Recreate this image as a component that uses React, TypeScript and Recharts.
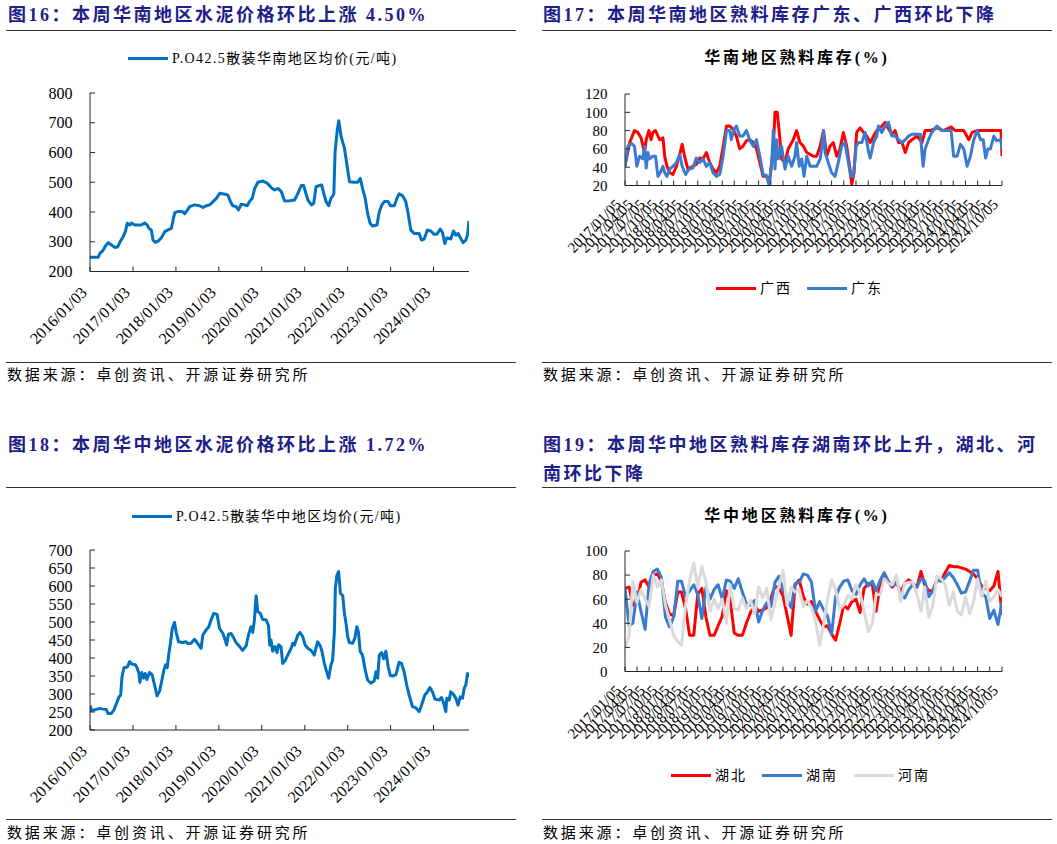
import React from "react";
import { LineChart, Line, XAxis, YAxis } from "recharts";

const SERIF = '"Liberation Serif", "Times New Roman", "Noto Sans CJK SC", serif';
const TITLE_COLOR = "#1d2088";
const AXIS = "#262626";
const PRICE_BLUE = "#0070c0";
const RED = "#ff0000";
const BLUE = "#3b7bcf";
const GRAY = "#dadada";

// 图16 华南 P.O42.5 散装均价
const southDates = [
  "2016/01/03", "2016/03/13", "2016/03/27", "2016/04/25", "2016/05/08", "2016/06/06", "2016/07/04", "2016/07/31",
  "2016/08/24", "2016/09/13", "2016/10/11", "2016/10/30", "2016/11/15", "2016/12/07", "2016/12/21", "2017/01/19",
  "2017/03/15", "2017/04/12", "2017/05/04", "2017/05/19", "2017/06/08", "2017/06/22", "2017/07/12", "2017/08/04",
  "2017/09/01", "2017/09/30", "2017/10/28", "2017/11/25", "2017/12/10", "2017/12/24", "2018/01/22", "2018/03/04",
  "2018/03/18", "2018/04/15", "2018/04/29", "2018/06/11", "2018/07/23", "2018/08/21", "2018/09/19", "2018/10/17",
  "2018/11/15", "2018/12/13", "2019/01/11", "2019/02/22", "2019/03/20", "2019/04/12", "2019/05/01", "2019/05/30",
  "2019/06/19", "2019/07/12", "2019/08/10", "2019/09/01", "2019/09/21", "2019/10/14", "2019/11/03", "2019/12/01",
  "2020/01/13", "2020/02/19", "2020/03/23", "2020/04/21", "2020/05/19", "2020/06/17", "2020/07/15", "2020/08/26",
  "2020/10/08", "2020/11/06", "2020/12/04", "2020/12/24", "2021/01/08", "2021/01/30", "2021/02/28", "2021/03/20",
  "2021/04/09", "2021/05/08", "2021/05/27", "2021/06/13", "2021/07/03", "2021/07/25", "2021/08/14", "2021/09/07",
  "2021/09/18", "2021/10/05", "2021/10/19", "2021/11/08", "2021/12/06", "2021/12/28", "2022/01/18", "2022/03/01",
  "2022/03/29", "2022/04/20", "2022/05/09", "2022/06/01", "2022/06/21", "2022/07/13", "2022/08/02", "2022/09/09",
  "2022/09/28", "2022/10/21", "2022/11/10", "2022/12/14", "2023/01/01", "2023/02/04", "2023/02/26", "2023/03/16",
  "2023/04/14", "2023/05/12", "2023/06/01", "2023/06/24", "2023/07/22", "2023/09/03", "2023/09/23", "2023/10/15",
  "2023/11/13", "2023/12/11", "2024/01/09", "2024/02/01", "2024/02/29", "2024/03/19", "2024/04/08", "2024/04/25",
  "2024/05/15", "2024/05/29", "2024/06/21", "2024/07/11", "2024/07/30", "2024/08/22", "2024/09/11", "2024/10/04",
  "2024/10/18", "2024/10/31",
];
const southPrice = [
  248, 248, 261, 272, 283, 297, 289, 281, 282, 298, 317, 334, 362, 356, 363, 356,
  356, 363, 356, 345, 339, 306, 298, 302, 313, 334, 340, 345, 373, 398, 402, 401,
  394, 409, 418, 424, 421, 415, 421, 424, 435, 446, 463, 460, 457, 435, 421, 418,
  407, 426, 424, 421, 435, 446, 478, 500, 504, 497, 482, 474, 479, 469, 437, 438,
  440, 463, 489, 489, 469, 440, 424, 429, 485, 489, 491, 463, 435, 421, 446, 460,
  603, 671, 707, 654, 615, 558, 502, 500, 500, 513, 480, 446, 396, 362, 353, 356,
  399, 424, 435, 435, 421, 421, 446, 461, 455, 435, 396, 339, 328, 328, 306, 309,
  339, 336, 325, 325, 343, 331, 294, 313, 311, 309, 336, 322, 328, 311, 297, 306,
  322, 370,
];

// 图18 华中 P.O42.5 散装均价
const centralDates = [
  "2016/01/03", "2016/01/15", "2016/02/13", "2016/03/25", "2016/04/22", "2016/05/20", "2016/06/04", "2016/07/02",
  "2016/07/25", "2016/08/14", "2016/09/06", "2016/09/20", "2016/10/01", "2016/10/18", "2016/11/16", "2016/12/05",
  "2016/12/25", "2017/01/23", "2017/02/09", "2017/02/24", "2017/03/02", "2017/03/19", "2017/04/03", "2017/04/17",
  "2017/05/01", "2017/05/23", "2017/06/15", "2017/07/05", "2017/07/27", "2017/08/17", "2017/09/06", "2017/09/23",
  "2017/10/07", "2017/10/21", "2017/11/02", "2017/11/19", "2017/12/03", "2017/12/22", "2018/01/06", "2018/01/26",
  "2018/03/02", "2018/03/30", "2018/04/14", "2018/05/12", "2018/06/10", "2018/07/08", "2018/08/05", "2018/08/20",
  "2018/09/17", "2018/10/10", "2018/10/29", "2018/11/21", "2018/12/19", "2019/01/09", "2019/02/07", "2019/02/21",
  "2019/03/11", "2019/03/25", "2019/04/17", "2019/05/09", "2019/05/29", "2019/06/26", "2019/07/24", "2019/08/22",
  "2019/09/14", "2019/10/04", "2019/10/18", "2019/11/02", "2019/11/16", "2019/11/30", "2019/12/22", "2020/01/11",
  "2020/02/09", "2020/02/29", "2020/03/11", "2020/03/22", "2020/04/05", "2020/04/25", "2020/05/12", "2020/05/26",
  "2020/06/15", "2020/06/29", "2020/07/19", "2020/08/11", "2020/09/09", "2020/09/23", "2020/10/07", "2020/11/05",
  "2020/11/24", "2020/12/17", "2021/01/06", "2021/01/29", "2021/02/26", "2021/03/25", "2021/04/08", "2021/04/22",
  "2021/05/12", "2021/05/29", "2021/06/18", "2021/07/08", "2021/07/25", "2021/08/14", "2021/08/28", "2021/09/12",
  "2021/09/20", "2021/10/04", "2021/10/18", "2021/11/02", "2021/11/22", "2021/12/06", "2021/12/20", "2022/01/03",
  "2022/01/17", "2022/02/15", "2022/03/05", "2022/03/22", "2022/04/05", "2022/04/19", "2022/05/09", "2022/06/01",
  "2022/06/21", "2022/07/19", "2022/08/16", "2022/09/01", "2022/09/15", "2022/09/29", "2022/10/18", "2022/11/05",
  "2022/11/24", "2022/12/14", "2023/01/01", "2023/01/20", "2023/02/18", "2023/03/16", "2023/04/05", "2023/04/28",
  "2023/05/20", "2023/06/10", "2023/07/08", "2023/08/05", "2023/09/03", "2023/09/23", "2023/10/21", "2023/11/13",
  "2023/12/03", "2023/12/25", "2024/01/15", "2024/02/21", "2024/03/11", "2024/03/27", "2024/04/17", "2024/04/25",
  "2024/05/15", "2024/05/29", "2024/06/21", "2024/07/11", "2024/07/30", "2024/08/17", "2024/09/06", "2024/09/20",
  "2024/10/04", "2024/10/18", "2024/10/31",
];
const centralPrice = [
  268, 254, 256, 260, 258, 257, 246, 246, 256, 273, 292, 297, 348, 373, 375, 390,
  383, 381, 371, 355, 332, 360, 344, 357, 340, 360, 353, 325, 295, 308, 339, 367,
  381, 373, 408, 445, 482, 499, 470, 445, 443, 445, 440, 441, 452, 440, 427, 464,
  478, 487, 506, 524, 521, 482, 468, 455, 436, 466, 468, 456, 443, 433, 421, 433,
  466, 487, 471, 506, 573, 529, 524, 507, 506, 491, 436, 450, 419, 432, 415, 437,
  431, 385, 392, 408, 427, 441, 436, 464, 471, 459, 436, 427, 421, 408, 427, 445,
  436, 419, 385, 362, 344, 381, 394, 473, 594, 631, 640, 580, 573, 524, 496, 459,
  443, 441, 455, 487, 471, 419, 408, 367, 339, 330, 336, 362, 344, 408, 415, 398,
  419, 375, 351, 350, 354, 388, 385, 362, 325, 297, 265, 262, 251, 269, 297, 306,
  318, 306, 286, 283, 290, 277, 251, 288, 283, 306, 299, 288, 269, 292, 288, 316,
  325, 357, 348,
];

const yearTicks = [
  "2016/01/03", "2017/01/03", "2018/01/03", "2019/01/03", "2020/01/03",
  "2021/01/03", "2022/01/03", "2023/01/03", "2024/01/03",
];
const southTicks = [200, 300, 400, 500, 600, 700, 800];
const centralTicks = [200, 250, 300, 350, 400, 450, 500, 550, 600, 650, 700];

// 图17 华南熟料库存 广西 / 广东
const guangxiDates = [
  "2017/01/05", "2017/02/09", "2017/03/17", "2017/04/11", "2017/05/06", "2017/05/31", "2017/06/13", "2017/07/03", "2017/07/20", "2017/08/02",
  "2017/08/22", "2017/09/22", "2017/10/17", "2017/10/30", "2017/11/16", "2017/12/06", "2017/12/31", "2018/01/26", "2018/02/20", "2018/03/10",
  "2018/03/28", "2018/04/22", "2018/05/30", "2018/06/24", "2018/07/19", "2018/08/13", "2018/09/08", "2018/10/03", "2018/10/28", "2018/11/22",
  "2018/12/17", "2019/01/12", "2019/02/06", "2019/03/02", "2019/03/26", "2019/04/21", "2019/05/16", "2019/06/10", "2019/07/05", "2019/07/30",
  "2019/08/25", "2019/09/19", "2019/10/14", "2019/11/08", "2019/12/03", "2019/12/28", "2020/01/23", "2020/02/05", "2020/02/22", "2020/03/08",
  "2020/03/25", "2020/04/20", "2020/05/14", "2020/06/21", "2020/07/16", "2020/08/10", "2020/09/05", "2020/09/30", "2020/10/25", "2020/11/19",
  "2020/12/14", "2021/01/09", "2021/02/03", "2021/02/27", "2021/03/24", "2021/04/18", "2021/05/13", "2021/06/07", "2021/07/02", "2021/07/27",
  "2021/08/21", "2021/09/03", "2021/09/20", "2021/10/10", "2021/11/05", "2021/11/30", "2021/12/25", "2022/01/20", "2022/02/14", "2022/03/10",
  "2022/04/17", "2022/05/12", "2022/06/06", "2022/07/01", "2022/07/26", "2022/08/20", "2022/09/15", "2022/10/10", "2022/11/04", "2022/11/29",
  "2023/01/06", "2023/02/13", "2023/03/08", "2023/04/15", "2023/06/05", "2023/07/25", "2023/09/19", "2023/10/21", "2023/12/23", "2024/01/30",
  "2024/02/24", "2024/04/02", "2024/07/10", "2024/09/28", "2024/10/05",
];
const guangxiStock = [
  41, 67, 80, 78, 72, 56, 70, 80, 70, 78,
  80, 70, 72, 52, 41, 34, 32, 41, 54, 65,
  52, 38, 41, 43, 50, 49, 56, 45, 38, 34,
  41, 63, 85, 85, 82, 74, 60, 63, 69, 70,
  67, 60, 45, 30, 30, 27, 60, 100, 100, 78,
  49, 45, 60, 70, 80, 67, 63, 56, 54, 52,
  52, 63, 80, 52, 63, 67, 52, 60, 78, 63,
  38, 21, 34, 78, 83, 78, 74, 67, 74, 80,
  85, 89, 82, 76, 80, 67, 67, 56, 67, 70,
  74, 67, 80, 80, 83, 80, 84, 80, 80, 70,
  78, 80, 80, 80, 52,
];
const guangdongDates = [
  "2017/01/05", "2017/01/27", "2017/02/21", "2017/03/17", "2017/04/04", "2017/04/24", "2017/05/19", "2017/05/31", "2017/06/13", "2017/06/26",
  "2017/07/08", "2017/08/02", "2017/08/22", "2017/09/09", "2017/09/27", "2017/10/17", "2017/10/30", "2017/11/16", "2017/12/06", "2017/12/31",
  "2018/01/26", "2018/02/20", "2018/03/10", "2018/04/05", "2018/04/30", "2018/05/30", "2018/06/24", "2018/07/19", "2018/08/13", "2018/09/08",
  "2018/10/03", "2018/10/28", "2018/11/22", "2018/12/17", "2019/01/12", "2019/02/06", "2019/03/02", "2019/03/14", "2019/03/31", "2019/04/21",
  "2019/05/16", "2019/06/10", "2019/07/05", "2019/07/30", "2019/08/25", "2019/09/19", "2019/10/14", "2019/11/08", "2019/12/03", "2019/12/23",
  "2020/01/11", "2020/01/23", "2020/02/05", "2020/02/17", "2020/02/29", "2020/03/25", "2020/04/20", "2020/05/14", "2020/06/09", "2020/07/04",
  "2020/07/16", "2020/08/05", "2020/08/23", "2020/09/10", "2020/09/30", "2020/10/25", "2020/12/14", "2021/01/09", "2021/01/22", "2021/02/03",
  "2021/02/15", "2021/03/11", "2021/04/05", "2021/04/30", "2021/05/25", "2021/06/19", "2021/07/14", "2021/08/09", "2021/08/26", "2021/09/16",
  "2021/10/06", "2021/10/24", "2021/11/18", "2021/12/13", "2022/01/08", "2022/01/20", "2022/02/14", "2022/03/10", "2022/03/22", "2022/04/17",
  "2022/05/12", "2022/06/06", "2022/07/01", "2022/07/26", "2022/08/20", "2022/09/15", "2022/10/10", "2022/11/04", "2022/11/29", "2023/01/31",
  "2023/02/21", "2023/03/08", "2023/04/02", "2023/04/27", "2023/06/05", "2023/07/12", "2023/09/19", "2023/10/08", "2023/11/03", "2023/11/28",
  "2023/12/23", "2024/01/17", "2024/02/11", "2024/03/07", "2024/04/02", "2024/04/27", "2024/05/17", "2024/06/04", "2024/06/21", "2024/07/10",
  "2024/08/05", "2024/08/25", "2024/09/25", "2024/10/05",
];
const guangdongStock = [
  41, 63, 66, 63, 41, 52, 49, 63, 39, 56,
  49, 52, 52, 30, 34, 41, 34, 30, 38, 41,
  45, 54, 41, 32, 38, 39, 50, 45, 49, 41,
  45, 34, 30, 32, 52, 80, 80, 70, 80, 85,
  74, 74, 80, 70, 63, 70, 52, 32, 31, 20,
  45, 80, 38, 70, 49, 63, 38, 52, 41, 52,
  67, 41, 49, 30, 52, 41, 41, 49, 63, 80,
  56, 45, 34, 30, 45, 63, 67, 45, 30, 30,
  63, 67, 67, 78, 56, 50, 67, 74, 85, 78,
  85, 89, 74, 74, 70, 67, 70, 74, 76, 76,
  41, 60, 70, 78, 85, 80, 80, 52, 52, 65,
  60, 41, 52, 70, 80, 70, 70, 50, 60, 60,
  74, 69, 70, 60,
];

// 图19 华中熟料库存 (月度)
const centralStockDates = [
  "2017/01/05", "2017/02/05", "2017/03/05", "2017/04/05", "2017/05/05", "2017/06/05", "2017/07/05", "2017/08/05", "2017/09/05", "2017/10/05", "2017/11/05", "2017/12/05",
  "2018/01/05", "2018/02/05", "2018/03/05", "2018/04/05", "2018/05/05", "2018/06/05", "2018/07/05", "2018/08/05", "2018/09/05", "2018/10/05", "2018/11/05", "2018/12/05",
  "2019/01/05", "2019/02/05", "2019/03/05", "2019/04/05", "2019/05/05", "2019/06/05", "2019/07/05", "2019/08/05", "2019/09/05", "2019/10/05", "2019/11/05", "2019/12/05",
  "2020/01/05", "2020/02/05", "2020/03/05", "2020/04/05", "2020/05/05", "2020/06/05", "2020/07/05", "2020/08/05", "2020/09/05", "2020/10/05", "2020/11/05", "2020/12/05",
  "2021/01/05", "2021/02/05", "2021/03/05", "2021/04/05", "2021/05/05", "2021/06/05", "2021/07/05", "2021/08/05", "2021/09/05", "2021/10/05", "2021/11/05", "2021/12/05",
  "2022/01/05", "2022/02/05", "2022/03/05", "2022/04/05", "2022/05/05", "2022/06/05", "2022/07/05", "2022/08/05", "2022/09/05", "2022/10/05", "2022/11/05", "2022/12/05",
  "2023/01/05", "2023/02/05", "2023/03/05", "2023/04/05", "2023/05/05", "2023/06/05", "2023/07/05", "2023/08/05", "2023/09/05", "2023/10/05", "2023/11/05", "2023/12/05",
  "2024/01/05", "2024/02/05", "2024/03/05", "2024/04/05", "2024/05/05", "2024/06/05", "2024/07/05", "2024/08/05", "2024/09/05", "2024/10/05",
];
const hubeiStock = [
  69, 70, 55, 57, 74, 76, 70, 80, 81, 75, 57, 48,
  46, 66, 66, 52, 30, 30, 64, 69, 45, 30, 30, 38,
  46, 67, 60, 32, 30, 30, 40, 49, 54, 50, 51, 53,
  61, 71, 69, 63, 47, 30, 72, 76, 62, 56, 58, 50,
  43, 37, 38, 31, 26, 40, 55, 52, 58, 60, 49, 69,
  73, 72, 50, 73, 79, 74, 70, 74, 66, 73, 76, 73,
  70, 83, 72, 67, 67, 76, 75, 82, 88, 87, 87, 86,
  85, 83, 81, 77, 71, 69, 67, 71, 83, 47,
];
const hunanStock = [
  69, 38, 40, 66, 50, 35, 73, 83, 85, 78, 45, 37,
  45, 75, 75, 62, 67, 72, 64, 44, 70, 60, 68, 72,
  60, 76, 75, 69, 77, 66, 56, 55, 59, 41, 51, 57,
  54, 74, 79, 68, 60, 53, 73, 74, 81, 80, 74, 50,
  58, 51, 46, 31, 62, 70, 75, 76, 67, 64, 72, 77,
  71, 75, 67, 76, 82, 75, 71, 75, 64, 61, 68, 72,
  70, 77, 75, 62, 67, 76, 75, 78, 82, 78, 72, 65,
  66, 75, 84, 84, 65, 62, 44, 51, 39, 58,
];
const henanStock = [
  19, 30, 75, 57, 68, 60, 54, 80, 70, 76, 55, 43,
  30, 25, 22, 55, 76, 90, 70, 87, 74, 50, 60, 52,
  60, 40, 72, 52, 51, 61, 52, 59, 48, 70, 61, 69,
  43, 57, 71, 84, 55, 70, 66, 68, 54, 59, 53, 42,
  22, 40, 60, 76, 68, 52, 55, 63, 60, 72, 65, 50,
  33, 40, 64, 64, 77, 73, 72, 80, 58, 73, 74, 74,
  64, 50, 70, 45, 55, 79, 77, 72, 55, 66, 50, 47,
  62, 48, 58, 77, 62, 75, 58, 62, 68, 62,
];

const southStockTicks = [20, 40, 60, 80, 100, 120];
const centralStockTicks = [0, 20, 40, 60, 80, 100];

const toTime = (d: string) => {
  const [y, m, day] = d.split("/").map(Number);
  return Date.UTC(y, m - 1, day);
};
const fmtDate = (t: number) => {
  const d = new Date(t);
  const p = (n: number) => String(n).padStart(2, "0");
  return `${d.getUTCFullYear()}/${p(d.getUTCMonth() + 1)}/${p(d.getUTCDate())}`;
};

const southData = southDates.map((d, i) => ({ t: toTime(d), v: southPrice[i] }));
const centralData = centralDates.map((d, i) => ({ t: toTime(d), v: centralPrice[i] }));
const guangxiData = guangxiDates.map((d, i) => ({ t: toTime(d), v: guangxiStock[i] }));
const guangdongData = guangdongDates.map((d, i) => ({ t: toTime(d), v: guangdongStock[i] }));
const centralStockData = centralStockDates.map((d, i) => ({
  t: toTime(d),
  hubei: hubeiStock[i],
  hunan: hunanStock[i],
  henan: henanStock[i],
}));

const yearTickTimes = yearTicks.map(toTime);
const quarterTickTimes = centralStockDates.filter((_, i) => i % 3 === 0).map(toTime);
const priceDomain = [toTime(southDates[0]), toTime(southDates[southDates.length - 1])];
const stockDomain = [toTime(centralStockDates[0]), toTime(centralStockDates[centralStockDates.length - 1])];

function DiagTick(props: any) {
  const { x, y, payload, fs, ox, oy } = props;
  const ax = x + ox;
  const ay = y + oy;
  return (
    <text
      x={ax}
      y={ay}
      transform={`rotate(-45 ${ax} ${ay})`}
      textAnchor="end"
      fontSize={fs}
      fontFamily={SERIF}
      fill="#000"
    >
      {fmtDate(payload.value)}
    </text>
  );
}

const axisProps = {
  axisLine: { stroke: AXIS },
  tickLine: { stroke: AXIS },
  tickSize: -5,
  interval: 0 as const,
};

function xAxisFor(domain: number[], ticks: number[], fs: number, ox: number, oy: number) {
  return (
    <XAxis
      type="number"
      dataKey="t"
      domain={domain}
      ticks={ticks}
      allowDataOverflow
      height={30}
      tickMargin={5}
      {...axisProps}
      tick={(p: any) => <DiagTick {...p} fs={fs} ox={ox} oy={oy} />}
    />
  );
}

function yAxisFor(ticks: number[], fs: number) {
  return (
    <YAxis
      type="number"
      domain={[ticks[0], ticks[ticks.length - 1]]}
      ticks={ticks}
      allowDataOverflow
      width={60}
      tickMargin={22.5}
      {...axisProps}
      tick={{ fontSize: fs, fontFamily: SERIF, fill: "#000" }}
    />
  );
}

function Txt({ x, cy, size, children, bold, color, spacing, center }: any) {
  const lh = Math.round(size * 1.5);
  return (
    <div
      style={{
        position: "absolute",
        left: x,
        top: cy - lh / 2,
        lineHeight: `${lh}px`,
        fontSize: size,
        fontWeight: bold ? 700 : 400,
        color: color || "#000",
        letterSpacing: spacing || 0,
        fontFamily: SERIF,
        whiteSpace: "nowrap",
        transform: center ? "translateX(-50%)" : undefined,
      }}
    >
      {children}
    </div>
  );
}

function Rule({ x, y, w }: any) {
  return <div style={{ position: "absolute", left: x, top: y - 0.5, width: w, height: 1, background: "#333" }} />;
}

function Key({ x, y, color, label, size = 14, spacing = 2 }: any) {
  return (
    <>
      <div style={{ position: "absolute", left: x, top: y - 1.5, width: 40, height: 3, background: color }} />
      <Txt x={x + 44} cy={y} size={size} spacing={spacing}>
        {label}
      </Txt>
    </>
  );
}

function Title({ x, cy, children }: any) {
  return (
    <Txt x={x} cy={cy} size={18} bold color={TITLE_COLOR} spacing={2.5}>
      {children}
    </Txt>
  );
}

function Source({ x, cy }: any) {
  return (
    <Txt x={x} cy={cy} size={15} spacing={2.85}>
      数据来源：卓创资讯、开源证券研究所
    </Txt>
  );
}

export default function App() {
  return (
    <div style={{ position: "absolute", left: 0, top: 0, width: 1057, height: 844, background: "#fff", overflow: "hidden" }}>
      {/* 图16 */}
      <Title x={8} cy={15}>图16：本周华南地区水泥价格环比上涨 4.50%</Title>
      <Rule x={6} y={30} w={510} />
      <Key x={128} y={58} color={PRICE_BLUE} label="P.O42.5散装华南地区均价(元/吨)" spacing={1.4} />
      <div style={{ position: "absolute", left: 0, top: 0 }}>
        <LineChart width={530} height={380} data={southData} margin={{ top: 93, right: 61, bottom: 78.5, left: 30 }}>
          {xAxisFor(priceDomain, yearTickTimes, 16, -2, 22)}
          {yAxisFor(southTicks, 16)}
          <Line type="linear" dataKey="v" stroke={PRICE_BLUE} strokeWidth={3} strokeLinejoin="round" dot={false} isAnimationActive={false} />
        </LineChart>
      </div>
      <Rule x={6} y={362} w={510} />
      <Source x={7} cy={375} />

      {/* 图17 */}
      <Title x={543} cy={15}>图17：本周华南地区熟料库存广东、广西环比下降</Title>
      <Rule x={542} y={30} w={510} />
      <Txt x={797} cy={58} size={16} bold spacing={2.8} center>
        华南地区熟料库存(%)
      </Txt>
      <div style={{ position: "absolute", left: 530, top: 0 }}>
        <LineChart width={527} height={380} margin={{ top: 94, right: 55, bottom: 164.5, left: 35 }}>
          {xAxisFor(stockDomain, quarterTickTimes, 15, -3, 20)}
          {yAxisFor(southStockTicks, 15)}
          <Line data={guangxiData} type="linear" dataKey="v" name="广西" stroke={RED} strokeWidth={3} strokeLinejoin="round" dot={false} isAnimationActive={false} />
          <Line data={guangdongData} type="linear" dataKey="v" name="广东" stroke={BLUE} strokeWidth={3} strokeLinejoin="round" dot={false} isAnimationActive={false} />
        </LineChart>
      </div>
      <Key x={716} y={288} color={RED} label="广西" />
      <Key x={807} y={288} color={BLUE} label="广东" />
      <Rule x={542} y={362} w={510} />
      <Source x={543} cy={375} />

      {/* 图18 */}
      <Title x={8} cy={445}>图18：本周华中地区水泥价格环比上涨 1.72%</Title>
      <Rule x={6} y={487} w={510} />
      <Key x={132} y={516} color={PRICE_BLUE} label="P.O42.5散装华中地区均价(元/吨)" spacing={1.4} />
      <div style={{ position: "absolute", left: 0, top: 420 }}>
        <LineChart width={530} height={424} data={centralData} margin={{ top: 130, right: 61, bottom: 84, left: 30 }}>
          {xAxisFor(priceDomain, yearTickTimes, 16, -2, 22)}
          {yAxisFor(centralTicks, 16)}
          <Line type="linear" dataKey="v" stroke={PRICE_BLUE} strokeWidth={3} strokeLinejoin="round" dot={false} isAnimationActive={false} />
        </LineChart>
      </div>
      <Rule x={6} y={819} w={510} />
      <Source x={7} cy={833} />

      {/* 图19 */}
      <Title x={543} cy={445}>图19：本周华中地区熟料库存湖南环比上升，湖北、河</Title>
      <Title x={543} cy={474}>南环比下降</Title>
      <Rule x={542} y={487} w={510} />
      <Txt x={797} cy={516} size={16} bold spacing={2.8} center>
        华中地区熟料库存(%)
      </Txt>
      <div style={{ position: "absolute", left: 530, top: 420 }}>
        <LineChart width={527} height={424} data={centralStockData} margin={{ top: 131, right: 55, bottom: 142.5, left: 35 }}>
          {xAxisFor(stockDomain, quarterTickTimes, 15, -3, 20)}
          {yAxisFor(centralStockTicks, 15)}
          <Line type="linear" dataKey="hubei" name="湖北" stroke={RED} strokeWidth={3} strokeLinejoin="round" dot={false} isAnimationActive={false} />
          <Line type="linear" dataKey="hunan" name="湖南" stroke={BLUE} strokeWidth={3} strokeLinejoin="round" dot={false} isAnimationActive={false} />
          <Line type="linear" dataKey="henan" name="河南" stroke={GRAY} strokeWidth={3} strokeLinejoin="round" dot={false} isAnimationActive={false} />
        </LineChart>
      </div>
      <Key x={671} y={775} color={RED} label="湖北" />
      <Key x={762} y={775} color={BLUE} label="湖南" />
      <Key x={854} y={775} color={GRAY} label="河南" />
      <Rule x={542} y={819} w={510} />
      <Source x={543} cy={833} />
    </div>
  );
}
